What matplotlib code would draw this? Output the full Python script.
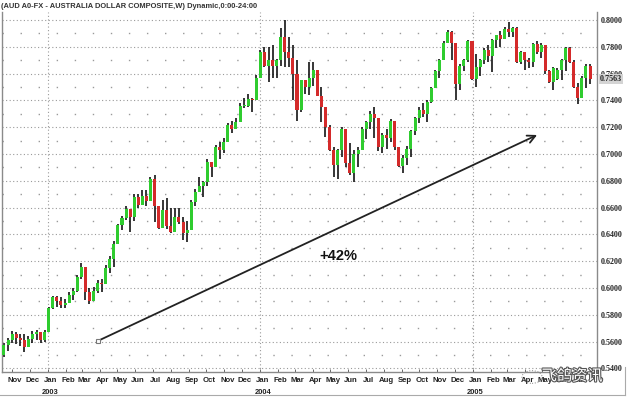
import numpy as np
import pandas as pd
import matplotlib
matplotlib.use('Agg')
import matplotlib.pyplot as plt
import matplotlib.dates as mdates
import matplotlib.patheffects as pe
import matplotlib.transforms as mtransforms
from matplotlib.patches import Circle

# weekly AUD bars (price)
opens = [0.550, 0.5575, 0.561, 0.566, 0.563, 0.561, 0.556, 0.562, 0.566, 0.567,
         0.561, 0.567, 0.585, 0.593, 0.590, 0.587, 0.589, 0.595, 0.598, 0.608,
         0.616, 0.597, 0.590, 0.598, 0.604, 0.603, 0.615, 0.622, 0.633, 0.647,
         0.652, 0.659, 0.653, 0.668, 0.662, 0.669, 0.665, 0.681, 0.661, 0.645,
         0.658, 0.646, 0.642, 0.653, 0.649, 0.641, 0.643, 0.664, 0.672, 0.676,
         0.679, 0.694, 0.690, 0.705, 0.703, 0.709, 0.722, 0.719, 0.724, 0.736,
         0.736, 0.741, 0.740, 0.757, 0.776, 0.766, 0.770, 0.766, 0.770, 0.787,
         0.776, 0.772, 0.760, 0.733, 0.755, 0.750, 0.757, 0.763, 0.743, 0.735,
         0.720, 0.703, 0.692, 0.703, 0.719, 0.693, 0.686, 0.700, 0.703, 0.719,
         0.724, 0.730, 0.727, 0.705, 0.714, 0.712, 0.725, 0.705, 0.691, 0.697,
         0.704, 0.717, 0.727, 0.733, 0.730, 0.739, 0.749, 0.762, 0.770, 0.783,
         0.791, 0.783, 0.752, 0.766, 0.770, 0.784, 0.756, 0.765, 0.770, 0.778,
         0.773, 0.785, 0.789, 0.786, 0.793, 0.791, 0.794, 0.769, 0.776, 0.770,
         0.769, 0.782, 0.776, 0.781, 0.762, 0.754, 0.756, 0.763, 0.770, 0.779,
         0.769, 0.750, 0.742, 0.757, 0.766]
highs = [0.559, 0.563, 0.568, 0.567, 0.566, 0.566, 0.564, 0.568, 0.569, 0.566,
         0.569, 0.586, 0.594, 0.594, 0.593, 0.592, 0.597, 0.600, 0.610, 0.619,
         0.615, 0.600, 0.601, 0.606, 0.607, 0.617, 0.624, 0.635, 0.648, 0.654,
         0.661, 0.658, 0.670, 0.670, 0.673, 0.673, 0.683, 0.684, 0.661, 0.666,
         0.667, 0.660, 0.660, 0.660, 0.653, 0.650, 0.666, 0.674, 0.683, 0.680,
         0.696, 0.693, 0.707, 0.709, 0.712, 0.723, 0.725, 0.727, 0.738, 0.742,
         0.745, 0.742, 0.759, 0.778, 0.780, 0.780, 0.781, 0.771, 0.794, 0.800,
         0.787, 0.781, 0.770, 0.755, 0.755, 0.769, 0.769, 0.763, 0.750, 0.735,
         0.722, 0.705, 0.704, 0.720, 0.717, 0.708, 0.703, 0.705, 0.720, 0.725,
         0.732, 0.735, 0.716, 0.716, 0.719, 0.726, 0.725, 0.704, 0.699, 0.706,
         0.718, 0.728, 0.735, 0.738, 0.740, 0.750, 0.763, 0.771, 0.784, 0.7925,
         0.792, 0.783, 0.767, 0.771, 0.785, 0.782, 0.775, 0.771, 0.779, 0.781,
         0.786, 0.789, 0.792, 0.795, 0.7985, 0.795, 0.795, 0.777, 0.773, 0.772,
         0.783, 0.784, 0.783, 0.780, 0.763, 0.765, 0.764, 0.771, 0.780, 0.780,
         0.770, 0.753, 0.758, 0.767, 0.767]
lows = [0.5485, 0.553, 0.559, 0.558, 0.557, 0.552, 0.556, 0.559, 0.561, 0.559,
        0.560, 0.567, 0.584, 0.586, 0.585, 0.585, 0.589, 0.591, 0.597, 0.607,
        0.591, 0.588, 0.590, 0.596, 0.597, 0.603, 0.611, 0.616, 0.636, 0.643,
        0.651, 0.642, 0.650, 0.660, 0.665, 0.661, 0.666, 0.649, 0.644, 0.649,
        0.644, 0.641, 0.650, 0.648, 0.636, 0.634, 0.645, 0.661, 0.672, 0.668,
        0.676, 0.683, 0.692, 0.696, 0.701, 0.710, 0.716, 0.719, 0.724, 0.734,
        0.735, 0.731, 0.741, 0.760, 0.765, 0.754, 0.757, 0.757, 0.766, 0.765,
        0.765, 0.740, 0.725, 0.731, 0.745, 0.744, 0.751, 0.743, 0.724, 0.713,
        0.702, 0.683, 0.681, 0.698, 0.690, 0.684, 0.679, 0.690, 0.703, 0.711,
        0.719, 0.712, 0.702, 0.701, 0.704, 0.709, 0.703, 0.690, 0.686, 0.692,
        0.698, 0.714, 0.723, 0.728, 0.724, 0.738, 0.750, 0.757, 0.772, 0.783,
        0.770, 0.740, 0.748, 0.762, 0.769, 0.755, 0.750, 0.758, 0.767, 0.769,
        0.761, 0.779, 0.780, 0.786, 0.787, 0.787, 0.768, 0.767, 0.763, 0.764,
        0.765, 0.775, 0.772, 0.760, 0.753, 0.748, 0.755, 0.755, 0.762, 0.768,
        0.749, 0.737, 0.742, 0.749, 0.752]
closes = [0.5575, 0.561, 0.566, 0.563, 0.561, 0.556, 0.562, 0.566, 0.567, 0.561,
          0.567, 0.585, 0.593, 0.590, 0.587, 0.589, 0.595, 0.598, 0.608, 0.616,
          0.597, 0.590, 0.598, 0.604, 0.603, 0.615, 0.622, 0.633, 0.647, 0.652,
          0.659, 0.653, 0.668, 0.662, 0.669, 0.665, 0.681, 0.661, 0.645, 0.658,
          0.646, 0.642, 0.653, 0.649, 0.641, 0.643, 0.664, 0.672, 0.676, 0.679,
          0.694, 0.690, 0.705, 0.703, 0.709, 0.722, 0.719, 0.724, 0.736, 0.736,
          0.741, 0.740, 0.757, 0.776, 0.766, 0.770, 0.766, 0.770, 0.787, 0.776,
          0.772, 0.760, 0.733, 0.755, 0.750, 0.757, 0.763, 0.743, 0.735, 0.720,
          0.703, 0.692, 0.703, 0.719, 0.693, 0.686, 0.700, 0.703, 0.719, 0.724,
          0.730, 0.727, 0.705, 0.714, 0.712, 0.725, 0.705, 0.691, 0.697, 0.704,
          0.717, 0.727, 0.733, 0.730, 0.739, 0.749, 0.762, 0.770, 0.783, 0.791,
          0.783, 0.752, 0.766, 0.770, 0.784, 0.756, 0.765, 0.770, 0.778, 0.773,
          0.785, 0.789, 0.786, 0.793, 0.791, 0.794, 0.769, 0.776, 0.770, 0.769,
          0.782, 0.776, 0.781, 0.762, 0.754, 0.764, 0.763, 0.770, 0.779, 0.769,
          0.750, 0.742, 0.757, 0.766, 0.7563]

first_week = '2002-10-18'
last_price = 0.7563
price_ticks = [0.54, 0.56, 0.58, 0.60, 0.62, 0.64, 0.66, 0.68, 0.70, 0.72, 0.74, 0.76, 0.78, 0.80]
year_starts = ['2003-01-01', '2004-01-01', '2005-01-01']
arrow_from = ('2003-03-28', 0.5604)
arrow_to = ('2005-04-22', 0.7142)
gain_text = '+42%'
gain_pos = ('2004-05-16', 0.6239)
title = '(AUD A0-FX - AUSTRALIA DOLLAR COMPOSITE,W) Dynamic,0:00-24:00'

o = np.array(opens); h = np.array(highs); l = np.array(lows); c = np.array(closes)
weeks = pd.date_range(first_week, periods=len(c), freq='W-FRI')
x = mdates.date2num(weeks)

fig = plt.figure(figsize=(6.27, 3.97), dpi=100)
ax = fig.add_axes([2 / 627, 25 / 397, 595 / 627, 360 / 397])

# grid: dense dots every 0.02, sparse dots in between
grid_col = '#9a9a9a'
for v in price_ticks:
    ax.axhline(v, color=grid_col, lw=0.8, ls=(0, (1, 2.2)), zorder=0)
for v in np.array(price_ticks[:-1]) + 0.01:
    ax.axhline(v, color=grid_col, lw=1.0, ls=(0, (1, 12)), zorder=0)
for d in year_starts:
    ax.axvline(mdates.datestr2num(d), color=grid_col, lw=0.8, ls=(0, (1, 2.2)), zorder=0)

# candles
lo = np.minimum(l, np.minimum(o, c))
hi = np.maximum(h, np.maximum(o, c))
ax.vlines(x, lo, hi, color='black', lw=1.1, zorder=2)
up = c >= o
ax.bar(x[up], np.maximum(c[up] - o[up], 0.0006), bottom=o[up], width=5.2,
       color='#2fcc2f', edgecolor='none', zorder=3)
ax.bar(x[~up], np.maximum(o[~up] - c[~up], 0.0006), bottom=c[~up], width=5.2,
       color='#d42a2a', edgecolor='none', zorder=3)

ax.set_xlim(x[0] - 3.4, x[-1] + 12)
ax.set_ylim(0.5373, 0.806)

# arrow and label
xa = mdates.datestr2num(arrow_from[0]); xb = mdates.datestr2num(arrow_to[0])
ax.annotate('', xy=(xb, arrow_to[1]), xytext=(xa, arrow_from[1]),
            arrowprops=dict(arrowstyle='->', color='#222222', lw=1.3, mutation_scale=14,
                            shrinkA=0, shrinkB=0), zorder=4)
ax.plot(xa, arrow_from[1], marker='s', ms=3.5, mfc='white', mec='#777777', mew=0.8, zorder=5)
ax.text(mdates.datestr2num(gain_pos[0]), gain_pos[1], gain_text, ha='center', va='center',
        fontsize=10.5, fontweight='bold', family='Liberation Sans', color='#111111')

# right-hand price scale
ax.yaxis.tick_right()
ax.set_yticks(price_ticks)
ax.set_yticklabels([f'{v:.4f}' for v in price_ticks], fontsize=5.8, fontweight='bold',
                   family='Liberation Serif', color='#222222')
ax.tick_params(axis='y', length=0, pad=3)
trans = mtransforms.blended_transform_factory(ax.transAxes, ax.transData)
ax.text(1.005, last_price, f'{last_price:.4f}', transform=trans, ha='left', va='center',
        fontsize=5.8, fontweight='bold', family='Liberation Serif', color='#222222',
        bbox=dict(boxstyle='square,pad=0.12', fc='#d4d4d4', ec='none'))

# month axis
months = pd.date_range('2002-11-01', '2005-07-01', freq='MS')
mx = mdates.date2num(months)
ax.set_xticks(mx)
ax.set_xticklabels([])
ax.tick_params(axis='x', length=2.5, width=0.7, color='#666666', direction='in')
tx = mtransforms.blended_transform_factory(ax.transData, ax.transAxes)
for m, xv in zip(months, mx):
    ax.text(xv + 5, -0.024, m.strftime('%b'), transform=tx, ha='center', va='center',
            fontsize=5.6, fontweight='bold', family='Liberation Sans', color='#222222')
    if m.month == 1:
        ax.text(xv + 5, -0.058, str(m.year), transform=tx, ha='center', va='center',
                fontsize=5.4, fontweight='bold', family='Liberation Sans', color='#222222')

for s in ['left', 'right', 'bottom']:
    ax.spines[s].set_color('#8a8a8a')
    ax.spines[s].set_linewidth(1.0)
ax.spines['top'].set_visible(False)

fig.text(1 / 627, 1 - 7 / 397, title, ha='left', va='center', fontsize=5.4,
         fontweight='bold', family='Liberation Sans', color='#333333')

# frame lines of the original screenshot
fig.add_artist(plt.Line2D([0, 625 / 627], [2 / 397, 2 / 397], color='#aaaaaa', lw=0.8))
fig.add_artist(plt.Line2D([625 / 627, 625 / 627], [2 / 397, 30 / 397], color='#aaaaaa', lw=0.8))

# watermark (sits over the month labels, as in the source image)
fig.add_artist(Circle((532 / 627, 20 / 397), 0.016, transform=fig.transFigure, fill=False,
                      ec='#999999', lw=0.8, ls=(0, (1, 1.5))))
fig.text(572 / 627, 21 / 397, '飞鸽资讯', ha='center', va='center', fontsize=11,
         family=['Noto Sans CJK SC', 'DejaVu Sans'], color='white', zorder=10,
         path_effects=[pe.withStroke(linewidth=1.6, foreground='#555555')])

fig.savefig('out.png', dpi=100)
